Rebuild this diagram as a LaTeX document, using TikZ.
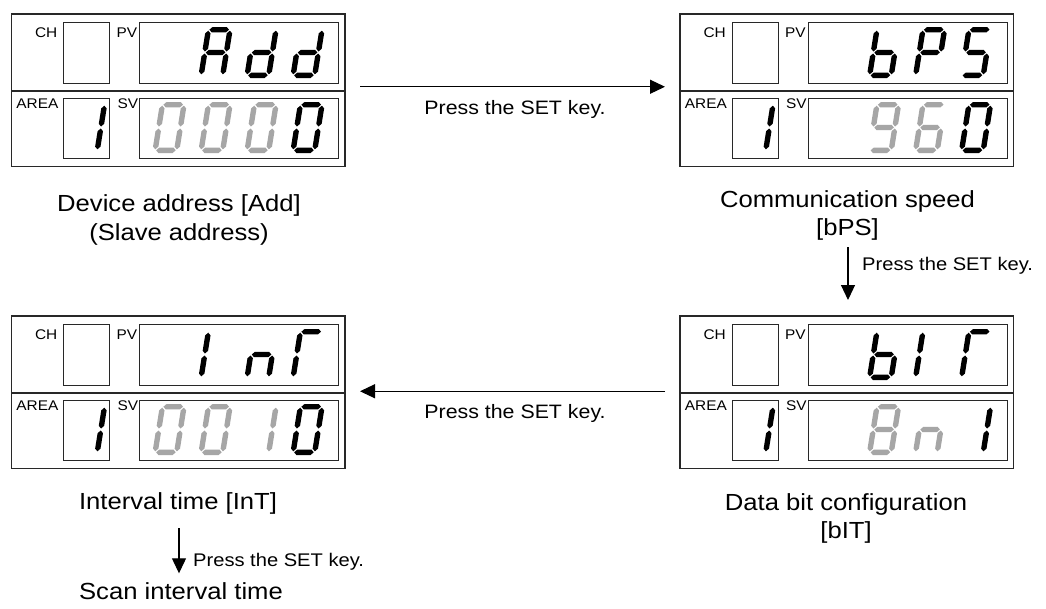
\documentclass[tikz,border=0pt]{standalone}
\usepackage{fontspec}
\setmainfont[FakeStretch=1.1]{Liberation Sans}
\usetikzlibrary{arrows.meta}

\definecolor{segon}{RGB}{0,0,0}
\definecolor{segoff}{RGB}{166,166,166}
\definecolor{framegray}{RGB}{40,40,40}

\tikzset{
  panelbox/.style={rectangle, draw=framegray, line width=1.3pt, minimum width=333.5pt,
    minimum height=152.5pt, inner sep=0pt, outer sep=0pt},
  innerbox/.style={draw=framegray, line width=1pt},
  divider/.style={draw=framegray, line width=1.2pt},
  tag/.style={inner sep=0pt, font=\fontsize{14}{16}\selectfont},
  caption/.style={inner sep=0pt, anchor=base, font=\fontsize{23.3}{28}\selectfont},
  keylabel/.style={inner sep=0pt, anchor=base, font=\fontsize{19.4}{23}\selectfont},
  sidelabel/.style={inner sep=0pt, anchor=base west, font=\fontsize{18.3}{22}\selectfont},
  arr/.style={draw=black, line width=1.2pt, -{Triangle[length=15pt, width=14pt]}},
}

% seven-segment cells: origin at the lower left corner, y grows downwards
\newcommand\segpa[1]{\fill[#1] (3.7,-48.3) -- (6.4,-51) -- (20.6,-51) -- (23.3,-48.3) -- (20.6,-45.6) -- (6.4,-45.6) -- cycle;}
\newcommand\segpb[1]{\fill[#1] (24.3,-47.3) -- (27,-44.6) -- (27,-29.2) -- (24.3,-26.5) -- (21.6,-29.2) -- (21.6,-44.6) -- cycle;}
\newcommand\segpc[1]{\fill[#1] (24.3,-24.5) -- (27,-21.8) -- (27,-6.4) -- (24.3,-3.7) -- (21.6,-6.4) -- (21.6,-21.8) -- cycle;}
\newcommand\segpd[1]{\fill[#1] (3.7,-2.7) -- (6.4,-5.4) -- (20.6,-5.4) -- (23.3,-2.7) -- (20.6,0) -- (6.4,0) -- cycle;}
\newcommand\segpe[1]{\fill[#1] (2.7,-24.5) -- (5.4,-21.8) -- (5.4,-6.4) -- (2.7,-3.7) -- (0,-6.4) -- (0,-21.8) -- cycle;}
\newcommand\segpf[1]{\fill[#1] (2.7,-47.3) -- (5.4,-44.6) -- (5.4,-29.2) -- (2.7,-26.5) -- (0,-29.2) -- (0,-44.6) -- cycle;}
\newcommand\segpg[1]{\fill[#1] (3.7,-25.5) -- (6.4,-28.2) -- (20.6,-28.2) -- (23.3,-25.5) -- (20.6,-22.8) -- (6.4,-22.8) -- cycle;}

% #1,#2 lower left corner, #3 colour, #4 list of lit segments
\newcommand\sevseg[4]{%
  \begin{scope}[shift={(#1,#2)}, xslant=0.16]
    \foreach \sg in {#4}{\csname segp\sg\endcsname{#3}}
  \end{scope}}

% display front: #1 name, #2,#3 top left corner
\newcommand\dispanel[3]{%
  \node[panelbox, anchor=north west] (#1) at (#2,#3) {};
  \begin{scope}[shift={(#2,#3)}]
    \draw[innerbox] (52,8) rectangle (98,69);
    \draw[innerbox] (128,8) rectangle (327,69);
    \draw[divider] (0,77) -- (333.5,77);
    \draw[innerbox] (52,84) rectangle (98,144);
    \draw[innerbox] (128,84) rectangle (327,144);
    \node[tag, anchor=base east] (#1-ch) at (46,23) {CH};
    \node[tag, anchor=base west] (#1-pv) at (105,23) {PV};
    \node[tag, anchor=base east] (#1-area) at (47,94) {AREA};
    \node[tag, anchor=base west] (#1-sv) at (106,94) {SV};
    \sevseg{61}{139}{segon}{b,c}
  \end{scope}}

\begin{document}
\begin{tikzpicture}[x=1pt, y=-1pt]
\fill[white] (0,0) rectangle (1046,608);
\useasboundingbox (0,0) rectangle (1046,608);

% device address
\dispanel{p1}{11.5}{14}
\begin{scope}[shift={(11.5,14)}]
  \sevseg{186.5}{64}{segon}{a,b,c,e,f,g}
  \sevseg{232.5}{64}{segon}{b,c,d,e,g}
  \sevseg{278.5}{64}{segon}{b,c,d,e,g}
  \sevseg{140.5}{139}{segoff}{a,b,c,d,e,f}
  \sevseg{186.5}{139}{segoff}{a,b,c,d,e,f}
  \sevseg{232.5}{139}{segoff}{a,b,c,d,e,f}
  \sevseg{278.5}{139}{segon}{a,b,c,d,e,f}
\end{scope}

% communication speed
\dispanel{p2}{680}{14}
\begin{scope}[shift={(680,14)}]
  \sevseg{186.5}{64}{segon}{c,d,e,f,g}
  \sevseg{232.5}{64}{segon}{a,b,e,f,g}
  \sevseg{278.5}{64}{segon}{a,c,d,f,g}
  \sevseg{186.5}{139}{segoff}{a,b,c,d,f,g}
  \sevseg{232.5}{139}{segoff}{a,c,d,e,f,g}
  \sevseg{278.5}{139}{segon}{a,b,c,d,e,f}
\end{scope}

% interval time
\dispanel{p3}{11.5}{316}
\begin{scope}[shift={(11.5,316)}]
  \sevseg{186.5}{64}{segon}{e,f}
  \sevseg{232.5}{64}{segon}{c,e,g}
  \sevseg{278.5}{64}{segon}{a,e,f}
  \sevseg{140.5}{139}{segoff}{a,b,c,d,e,f}
  \sevseg{186.5}{139}{segoff}{a,b,c,d,e,f}
  \sevseg{232.5}{139}{segoff}{b,c}
  \sevseg{278.5}{139}{segon}{a,b,c,d,e,f}
\end{scope}

% data bit configuration
\dispanel{p4}{680}{316}
\begin{scope}[shift={(680,316)}]
  \sevseg{186.5}{64}{segon}{c,d,e,f,g}
  \sevseg{232.5}{64}{segon}{e,f}
  \sevseg{278.5}{64}{segon}{a,e,f}
  \sevseg{186.5}{139}{segoff}{a,b,c,d,e,f,g}
  \sevseg{232.5}{139}{segoff}{c,e,g}
  \sevseg{278.5}{139}{segon}{b,c}
\end{scope}

% captions
\node[caption] (cap1a) at (179,211.7) {Device address [Add]};
\node[caption] (cap1b) at (179,240) {(Slave address)};
\node[caption] (cap2a) at (847.5,207) {Communication speed};
\node[caption] (cap2b) at (847.5,235) {[bPS]};
\node[caption] (cap3) at (178,509) {Interval time [InT]};
\node[caption] (cap4a) at (846,510) {Data bit configuration};
\node[caption] (cap4b) at (846,538) {[bIT]};
\node[caption] (cap5) at (181,599) {Scan interval time};

% key presses
\draw[arr] ([shift={(15,-3.5)}]p1.east) -- ([shift={(-15,-3.5)}]p2.west);
\node[keylabel] (k1) at (515,114) {Press the SET key.};

\coordinate (v1) at (848,247);
\draw[arr] (v1) -- (v1 |- p4.north) [shorten >=16pt];
\node[sidelabel] (k2) at (862,270) {Press the SET key.};

\draw[arr] ([shift={(-15,-1)}]p4.west) -- ([shift={(15,-1)}]p3.east);
\node[keylabel] (k3) at (515,418) {Press the SET key.};

\coordinate (v2) at (179,528);
\coordinate (v2end) at (179,573.3);
\draw[arr] (v2) -- (v2end);
\node[sidelabel] (k4) at (193,566) {Press the SET key.};
\end{tikzpicture}
\end{document}
